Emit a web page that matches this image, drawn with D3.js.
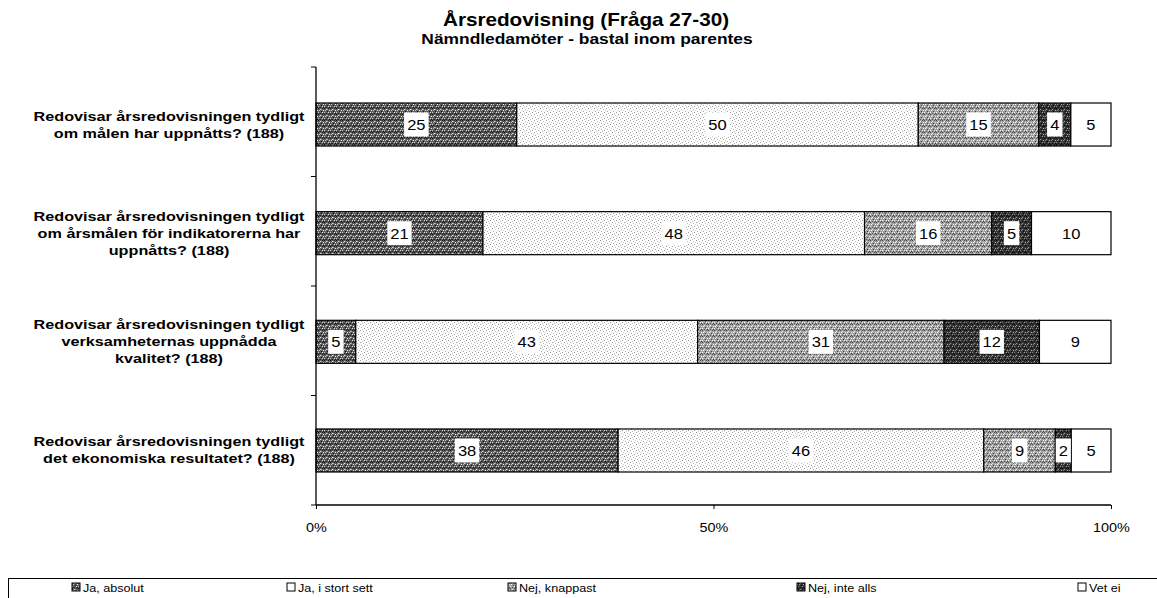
<!DOCTYPE html>
<html><head><meta charset="utf-8">
<script src="https://cdn.jsdelivr.net/npm/d3@7"></script>
<style>body{margin:0;background:#fff}svg{display:block;font-family:Arial,"Liberation Sans",sans-serif}</style>
</head><body><svg id="c" width="1157" height="598"></svg>
<script>
const categories = [
  ["Redovisar årsredovisningen tydligt","om målen har uppnåtts? (188)"],
  ["Redovisar årsredovisningen tydligt","om årsmålen för indikatorerna har","uppnåtts? (188)"],
  ["Redovisar årsredovisningen tydligt","verksamheternas uppnådda","kvalitet? (188)"],
  ["Redovisar årsredovisningen tydligt","det ekonomiska resultatet? (188)"]
];
const seriesNames = ["Ja, absolut","Ja, i stort sett","Nej, knappast","Nej, inte alls","Vet ei"];
const jaAbsolut   = [25,21,5,38];
const jaStortSett = [50,48,43,46];
const nejKnappast = [15,16,31,9];
const nejInteAlls = [4,5,12,2];
const vetEi       = [5,10,9,5];
const xTicks = [0,0.5,1];
const title = "Årsredovisning (Fråga 27-30)";
const subtitle = "Nämndledamöter - bastal inom parentes";

const series = [jaAbsolut,jaStortSett,nejKnappast,nejInteAlls,vetEi];
const svg = d3.select("#c");
const defs = svg.append("defs");

function texture(id, base, dots) {
  const p = defs.append("pattern").attr("id",id).attr("patternUnits","userSpaceOnUse")
    .attr("width",6).attr("height",6);
  p.append("rect").attr("width",6).attr("height",6).attr("fill",base);
  dots.forEach(([x,y,c])=>p.append("rect").attr("x",x).attr("y",y).attr("width",1).attr("height",1).attr("fill",c));
}
texture("p0","#5c5c5c",[[0,0,"#111"],[2,1,"#ddd"],[4,0,"#222"],[1,2,"#bbb"],[3,3,"#111"],[5,2,"#eee"],[0,4,"#ccc"],[2,5,"#222"],[4,4,"#ddd"],[1,5,"#333"],[5,5,"#111"],[3,1,"#999"]]);
texture("p1","#ffffff",[[0,0,"#999"],[3,1,"#bbb"],[1,3,"#aaa"],[4,4,"#999"],[5,2,"#ccc"],[2,5,"#bbb"]]);
texture("p2","#a0a0a0",[[0,0,"#444"],[2,1,"#eee"],[4,0,"#555"],[1,2,"#fff"],[3,3,"#444"],[5,2,"#eee"],[0,4,"#fff"],[2,5,"#555"],[4,4,"#eee"],[5,5,"#444"]]);
texture("p3","#363636",[[0,0,"#000"],[2,1,"#999"],[4,0,"#111"],[1,2,"#888"],[3,3,"#000"],[5,2,"#aaa"],[0,4,"#777"],[2,5,"#111"],[4,4,"#999"],[5,5,"#000"]]);
const fills = ["url(#p0)","url(#p1)","url(#p2)","url(#p3)","#ffffff"];
const legendFills = ["url(#p0)","#fff","url(#p2)","url(#p3)","#fff"];

const x = d3.scaleLinear().domain([0,1]).range([316,1111]);
const y = d3.scaleBand().domain(d3.range(categories.length)).range([103,472]).paddingInner(0.604).paddingOuter(0);

function stext(parent, px, py, sx, anchor) {
  return parent.append("g").attr("transform",`translate(${px},${py}) scale(${sx},1)`)
    .append("text").attr("text-anchor",anchor||"middle");
}

// title
stext(svg,586,26,1.15).attr("font-weight","bold").attr("font-size",18).text(title);
stext(svg,587,44,1.2).attr("font-weight","bold").attr("font-size",14.5).text(subtitle);

// bars
categories.forEach((cat,i)=>{
  const vals = series.map(s=>s[i]);
  const tot = d3.sum(vals);
  let cum = 0;
  const cy = y(i)+y.bandwidth()/2;
  vals.forEach((v,k)=>{
    const x0 = x(cum/tot), x1 = x((cum+v)/tot);
    cum += v;
    svg.append("rect").attr("x",x0).attr("y",y(i)).attr("width",x1-x0).attr("height",y.bandwidth())
      .attr("fill",fills[k]).attr("stroke","#000").attr("stroke-width",1.2);
  });
  cum = 0;
  vals.forEach((v,k)=>{
    const x0 = x(cum/tot), x1 = x((cum+v)/tot);
    cum += v;
    const cx = (x0+x1)/2;
    const box = svg.append("rect").attr("fill","#fff");
    const t = stext(svg,cx,cy+5.5,1.1).attr("font-size",15).text(v);
    const w = t.node().getBBox().width*1.1;
    box.attr("x",cx-w/2-3).attr("y",cy-12).attr("width",w+6).attr("height",24);
  });
  // category label
  const lh = 17;
  cat.forEach((l,j)=>{
    stext(svg,169,cy + (j-(cat.length-1)/2)*lh + 4.5,1.2).attr("font-weight","bold").attr("font-size",13.5).text(l);
  });
});

// axes
const yAxis = svg.append("g").attr("transform","translate(316,0)");
yAxis.append("line").attr("x1",0).attr("x2",0).attr("y1",67).attr("y2",505).attr("stroke","#000").attr("stroke-width",1.3);
d3.range(categories.length+1).forEach(k=>{
  const yy = 67 + k*(438/categories.length);
  yAxis.append("line").attr("x1",-5).attr("x2",0).attr("y1",yy).attr("y2",yy).attr("stroke","#000");
});
const xAxis = svg.append("g").attr("transform","translate(0,505)")
  .call(d3.axisBottom(x).tickValues(xTicks).tickFormat(d3.format(".0%")).tickSize(4).tickPadding(14));
xAxis.select(".domain").attr("stroke","#000").attr("stroke-width",1.3).attr("d","M316,0H1111");
xAxis.selectAll("text").attr("font-size",12).attr("font-family","Arial, Liberation Sans, sans-serif")
  .attr("fill","#000").attr("transform","scale(1.2,1)");

// legend
svg.append("rect").attr("x",8.5).attr("y",578.5).attr("width",1160).attr("height",40).attr("fill","none").attr("stroke","#000");
const legX = [72,287,508,797,1078];
seriesNames.forEach((n,k)=>{
  svg.append("rect").attr("x",legX[k]).attr("y",583).attr("width",8).attr("height",8)
    .attr("fill",legendFills[k]).attr("stroke","#000");
  stext(svg,legX[k]+11,591.5,1.2,"start").attr("font-size",10.5).text(n);
});
</script></body></html>
